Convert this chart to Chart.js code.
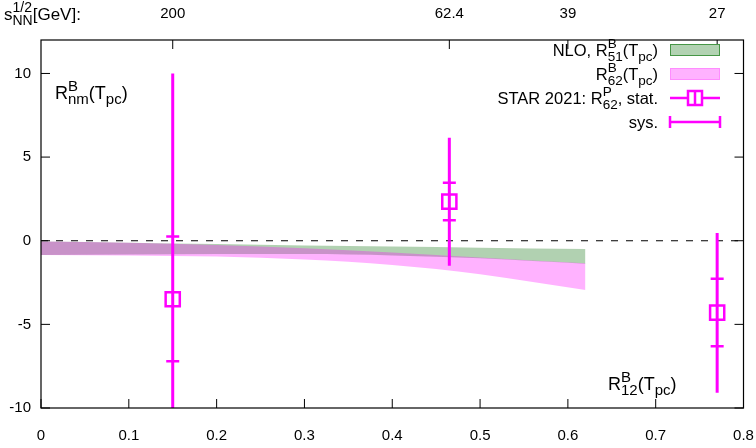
<!DOCTYPE html>
<html>
<head>
<meta charset="utf-8">
<script src="https://cdn.jsdelivr.net/npm/chart.js@4.4.1/dist/chart.umd.min.js"></script>
<style>
  html, body { margin: 0; padding: 0; background: #fff; }
  #wrap { width: 756px; height: 448px; }
</style>
</head>
<body>
<div id="wrap"><canvas id="c"></canvas></div>
<script>
// NLO bands, sampled along the x axis
const bandX    = [0, 0.1, 0.2, 0.3, 0.4, 0.5, 0.62];
const r51Upper = [-0.05, -0.12, -0.2, -0.28, -0.35, -0.42, -0.5];
const r51Lower = [-0.85, -0.83, -0.8, -0.8, -0.88, -1.05, -1.38];
const r62Upper = [-0.05, -0.12, -0.25, -0.45, -0.7, -1.0, -1.35];
const r62Lower = [-0.85, -0.88, -0.95, -1.12, -1.45, -2.0, -2.95];

// STAR 2021 points
const starX      = [0.15, 0.465, 0.77];
const starY      = [-3.5, 2.34, -4.3];
const starStatHi = [10.0, 6.15, 0.46];
const starStatLo = [-17.0, -1.49, -9.09];
const starSysHi  = [0.25, 3.47, -2.28];
const starSysLo  = [-7.2, 1.23, -6.31];

// top axis: sqrt(s_NN)
const topTickX      = [0.15, 0.465, 0.6, 0.77];
const topTickLabels = ['200', '62.4', '39', '27'];

const bottomTicks = [0, 0.1, 0.2, 0.3, 0.4, 0.5, 0.6, 0.7, 0.8];
const leftTicks = [-10, -5, 0, 5, 10];

const magenta = '#ff00ff';
const greenFill = 'rgba(60,140,60,0.4)';
const pinkFill = 'rgba(255,0,255,0.3)';
const FONT = '"Liberation Sans", Arial, sans-serif';
const BIG = 16.5, SMALL = 13.5;

function pts(xs, ys) { return xs.map((x, i) => ({x: x, y: ys[i]})); }

// text with stacked super/subscripts, gnuplot style
function richWidth(ctx, tokens, big, small) {
  let w = 0;
  tokens.forEach(t => {
    if (typeof t === 'string') { ctx.font = big + 'px ' + FONT; w += ctx.measureText(t).width; }
    else {
      ctx.font = small + 'px ' + FONT;
      w += Math.max(t[0] ? ctx.measureText(t[0]).width : 0, t[1] ? ctx.measureText(t[1]).width : 0);
    }
  });
  return w;
}
function drawRich(ctx, tokens, x, y, align, big, small) {
  big = big || BIG; small = small || SMALL;
  if (align === 'right') x -= richWidth(ctx, tokens, big, small);
  ctx.textAlign = 'left';
  ctx.textBaseline = 'alphabetic';
  ctx.fillStyle = '#000';
  tokens.forEach(t => {
    if (typeof t === 'string') {
      ctx.font = big + 'px ' + FONT;
      ctx.fillText(t, x, y);
      x += ctx.measureText(t).width;
    } else {
      ctx.font = small + 'px ' + FONT;
      let w = 0;
      if (t[0]) { ctx.fillText(t[0], x, y - 8); w = ctx.measureText(t[0]).width; }
      if (t[1]) { ctx.fillText(t[1], x, y + 5); w = Math.max(w, ctx.measureText(t[1]).width); }
      x += w;
    }
  });
}

const decor = {
  id: 'decor',
  beforeDatasetsDraw(chart) {
    const ctx = chart.ctx, a = chart.chartArea, y = chart.scales.y;
    const y0 = y.getPixelForValue(0);
    ctx.save();
    ctx.strokeStyle = '#000';
    ctx.lineWidth = 1.2;
    ctx.setLineDash([7, 8]);
    ctx.beginPath();
    ctx.moveTo(a.left, y0);
    ctx.lineTo(a.right, y0);
    ctx.stroke();
    ctx.restore();
  },
  afterDatasetsDraw(chart) {
    const ctx = chart.ctx, a = chart.chartArea, xs = chart.scales.x, ys = chart.scales.y;
    ctx.save();
    ctx.beginPath();
    ctx.rect(a.left, a.top, a.right - a.left, a.bottom - a.top);
    ctx.clip();
    ctx.strokeStyle = magenta;
    starX.forEach((xv, i) => {
      const px = xs.getPixelForValue(xv);
      ctx.lineWidth = 3;
      ctx.beginPath();
      ctx.moveTo(px, ys.getPixelForValue(starStatHi[i]));
      ctx.lineTo(px, ys.getPixelForValue(starStatLo[i]));
      ctx.stroke();
      ctx.lineWidth = 2.5;
      [starSysHi[i], starSysLo[i]].forEach(v => {
        const py = ys.getPixelForValue(v);
        ctx.beginPath();
        ctx.moveTo(px - 6.5, py);
        ctx.lineTo(px + 6.5, py);
        ctx.stroke();
      });
    });
    ctx.restore();
  },
  afterDraw(chart) {
    const ctx = chart.ctx, a = chart.chartArea, xs = chart.scales.x, ys = chart.scales.y;
    ctx.save();
    // frame
    ctx.strokeStyle = '#000';
    ctx.lineWidth = 1.2;
    ctx.strokeRect(a.left, a.top, a.right - a.left, a.bottom - a.top);
    // inward ticks
    ctx.lineWidth = 1;
    ctx.beginPath();
    bottomTicks.forEach(v => {
      const px = xs.getPixelForValue(v);
      ctx.moveTo(px, a.bottom); ctx.lineTo(px, a.bottom - 9);
    });
    topTickX.forEach(v => {
      const px = xs.getPixelForValue(v);
      ctx.moveTo(px, a.top); ctx.lineTo(px, a.top + 9);
    });
    leftTicks.forEach(v => {
      const py = ys.getPixelForValue(v);
      ctx.moveTo(a.left, py); ctx.lineTo(a.left + 9, py);
      ctx.moveTo(a.right, py); ctx.lineTo(a.right - 9, py);
    });
    ctx.stroke();

    // axis and in-plot labels
    drawRich(ctx, ['s', ['1/2', 'NN'], '[GeV]:'], 4, 20, 'left', 17, 14);
    drawRich(ctx, ['R', ['B', 'nm'], '(T', [null, 'pc'], ')'], 55, 99, 'left', 18, 15);
    drawRich(ctx, ['R', ['B', '12'], '(T', [null, 'pc'], ')'], 608, 390, 'left', 18, 15);

    // legend
    const tx = 658, sx0 = 670, sx1 = 720, sc = (sx0 + sx1) / 2;
    const rows = [50, 74, 98, 122];
    drawRich(ctx, ['NLO, R', ['B', '51'], '(T', [null, 'pc'], ')'], tx, rows[0] + 6, 'right');
    drawRich(ctx, ['R', ['B', '62'], '(T', [null, 'pc'], ')'], tx, rows[1] + 6, 'right');
    drawRich(ctx, ['STAR 2021: R', ['P', '62'], ', stat.'], tx, rows[2] + 6, 'right');
    drawRich(ctx, ['sys.'], tx, rows[3] + 6, 'right');

    ctx.fillStyle = 'rgb(178,210,178)';
    ctx.fillRect(sx0, rows[0] - 6, sx1 - sx0, 12);
    ctx.strokeStyle = 'rgb(70,150,70)';
    ctx.lineWidth = 1;
    ctx.strokeRect(sx0 + 0.5, rows[0] - 5.5, sx1 - sx0 - 1, 11);
    ctx.fillStyle = 'rgb(255,178,255)';
    ctx.fillRect(sx0, rows[1] - 6, sx1 - sx0, 12);
    ctx.strokeStyle = 'rgb(255,140,255)';
    ctx.strokeRect(sx0 + 0.5, rows[1] - 5.5, sx1 - sx0 - 1, 11);

    ctx.strokeStyle = magenta;
    ctx.lineWidth = 2.5;
    ctx.beginPath();
    ctx.moveTo(sx0, rows[2]); ctx.lineTo(sc - 7, rows[2]);
    ctx.moveTo(sc + 7, rows[2]); ctx.lineTo(sx1, rows[2]);
    ctx.stroke();
    ctx.strokeRect(sc - 7, rows[2] - 7, 14, 14);
    ctx.beginPath();
    ctx.moveTo(sc, rows[2] - 7); ctx.lineTo(sc, rows[2] + 7);
    ctx.stroke();

    ctx.beginPath();
    ctx.moveTo(sx0, rows[3]); ctx.lineTo(sx1, rows[3]);
    ctx.moveTo(sx0, rows[3] - 6); ctx.lineTo(sx0, rows[3] + 6);
    ctx.moveTo(sx1, rows[3] - 6); ctx.lineTo(sx1, rows[3] + 6);
    ctx.stroke();
    ctx.restore();
  }
};

const bandStyle = {
  showLine: true, borderWidth: 0, pointRadius: 0, pointHoverRadius: 0,
  cubicInterpolationMode: 'monotone'
};

new Chart(document.getElementById('c'), {
  type: 'scatter',
  data: {
    datasets: [
      Object.assign({label: 'R62 upper', data: pts(bandX, r62Upper), fill: '+1', backgroundColor: pinkFill, borderColor: 'rgba(0,0,0,0)'}, bandStyle),
      Object.assign({label: 'R62 lower', data: pts(bandX, r62Lower), fill: false, borderColor: 'rgba(0,0,0,0)'}, bandStyle),
      Object.assign({label: 'R51 upper', data: pts(bandX, r51Upper), fill: '+1', backgroundColor: greenFill, borderColor: 'rgba(0,0,0,0)'}, bandStyle),
      Object.assign({label: 'R51 lower', data: pts(bandX, r51Lower), fill: false, borderColor: 'rgba(0,0,0,0)'}, bandStyle),
      {
        label: 'STAR 2021',
        data: pts(starX, starY),
        showLine: false,
        pointStyle: 'rect',
        pointRadius: 10,
        pointHoverRadius: 10,
        borderColor: magenta,
        borderWidth: 2.5,
        backgroundColor: 'rgba(0,0,0,0)'
      }
    ]
  },
  options: {
    responsive: true,
    maintainAspectRatio: false,
    animation: false,
    layout: {padding: 0},
    plugins: {legend: {display: false}, tooltip: {enabled: false}},
    scales: {
      x: {
        type: 'linear', position: 'bottom', min: 0, max: 0.8,
        grid: {display: false, drawTicks: false}, border: {display: false},
        ticks: {stepSize: 0.1, padding: 0, color: '#000', font: {family: FONT, size: 15, lineHeight: '56px'}},
        afterFit(s) { s.height = 40; }
      },
      x2: {
        type: 'linear', position: 'top', min: 0, max: 0.8,
        grid: {display: false, drawTicks: false}, border: {display: false},
        afterBuildTicks(s) { s.ticks = topTickX.map(v => ({value: v})); },
        ticks: {autoSkip: false, maxRotation: 0, padding: 17, color: '#000', font: {family: FONT, size: 15},
          callback: (v, i) => topTickLabels[i]},
        afterFit(s) { s.height = 40; }
      },
      y: {
        type: 'linear', min: -10, max: 12,
        afterBuildTicks(s) { s.ticks = leftTicks.map(v => ({value: v})); },
        grid: {display: false, drawTicks: false}, border: {display: false},
        ticks: {padding: 10, color: '#000', font: {family: FONT, size: 15}},
        afterFit(s) { s.width = 41; }
      }
    }
  },
  plugins: [decor]
});
</script>
</body>
</html>
